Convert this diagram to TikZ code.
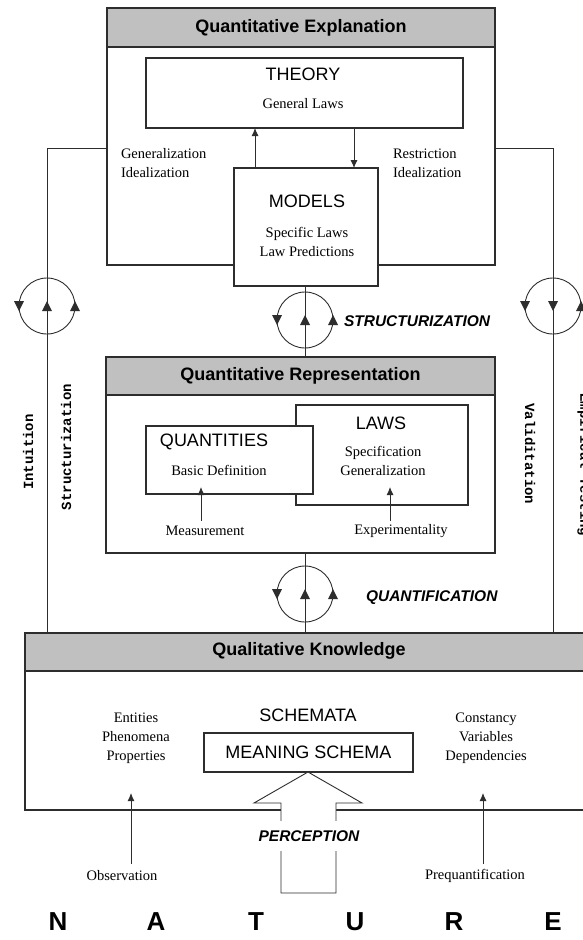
\documentclass[tikz,border=0pt]{standalone}
\usepackage{fontspec}
\setmainfont{Liberation Serif}
\setsansfont{Liberation Sans}
\setmonofont{Liberation Mono}
\usetikzlibrary{arrows.meta}
\definecolor{lc}{RGB}{45,45,45}
\definecolor{hdrgray}{RGB}{192,192,192}
\newcommand\mytri[3]{\fill[lc] (#1,{#2-5*#3}) -- ({#1-5},{#2+5*#3}) -- ({#1+5},{#2+5*#3}) -- cycle;}
\newcommand\mycycle[4]{%
  \node[cyc] (#1) at (#2,#3) {};
  \mytri{#2-28}{#3}{-1}
  \mytri{#2}{#3}{#4}
  \mytri{#2+28}{#3}{1}}
\begin{document}
\begin{tikzpicture}[x=1pt,y=-1pt,
  every node/.style={inner sep=0pt, outer sep=0pt},
  box/.style={draw=lc, line width=1.1pt, fill=white, anchor=north west},
  hdr/.style={draw=lc, line width=1.1pt, fill=hdrgray, anchor=north west},
  ln/.style={draw=lc, line width=0.9pt},
  arr/.style={ln, -{Latex[length=8pt,width=7pt]}},
  cyc/.style={circle, draw=lc, line width=0.9pt, minimum size=56pt},
  serif/.style={font=\fontsize{14.5}{19}\selectfont, align=center},
  caps/.style={font=\sffamily\fontsize{18}{20}\selectfont},
  htext/.style={font=\sffamily\bfseries\fontsize{18}{20}\selectfont},
  itext/.style={font=\sffamily\bfseries\itshape\fontsize{15.5}{17}\selectfont},
  side/.style={font=\ttfamily\bfseries\fontsize{14}{16}\selectfont},
  big/.style={font=\sffamily\bfseries\fontsize{26}{28}\selectfont}]
\clip (0,0) rectangle (583,940);
\fill[white] (0,0) rectangle (583,940);

% ---------- connectors along the sides ----------
\coordinate (qeL) at (107,148);
\coordinate (lc1) at (47,148);
\coordinate (qeR) at (495,148);
\coordinate (rc1) at (553,148);

% ---------- Quantitative Explanation ----------
\node[box, minimum width=388pt, minimum height=257pt] (qe) at (107,8) {};
\node[hdr, minimum width=388pt, minimum height=39pt] (qeh) at (107,8) {};
\node[htext] at (qeh.center) {Quantitative Explanation};
\node[box, minimum width=317pt, minimum height=70pt] (theory) at (146,58) {};
\node[caps] (theoryt) at (303,74) {THEORY};
\node[serif] (theoryl) at (303,104) {General Laws};
\node[box, minimum width=144pt, minimum height=118pt] (models) at (234,168) {};
\node[caps] (modelst) at (307,201) {MODELS};
\node[serif] (modelsl) at (307,241.5) {Specific Laws\\Law Predictions};
\node[serif, align=left, anchor=west] (gen) at (121,163.5) {Generalization\\Idealization};
\node[serif, align=left, anchor=west] (res) at (393,163.5) {Restriction\\Idealization};
\coordinate (ga) at (255,0);
\coordinate (gb) at (354,0);
\draw[arr] (ga |- models.north) -- (ga |- theory.south);
\draw[arr] (gb |- theory.south) -- (gb |- models.north);

% ---------- Quantitative Representation ----------
\node[box, minimum width=389pt, minimum height=196pt] (qr) at (106,357) {};
\node[hdr, minimum width=389pt, minimum height=38pt] (qrh) at (106,357) {};
\node[htext] at (qrh.center) {Quantitative Representation};
\node[box, minimum width=172pt, minimum height=100pt] (laws) at (296,405) {};
\node[caps] (lawst) at (381,423) {LAWS};
\node[serif] (lawsl) at (383,461) {Specification\\Generalization};
\node[box, minimum width=167pt, minimum height=68pt] (quant) at (146,426) {};
\node[caps] (quantt) at (214,442) {QUANTITIES};
\node[serif] (quantl) at (219,470) {Basic Definition};
\node[serif] (meas) at (205,531) {Measurement};
\node[serif] (expe) at (401,531) {Experimentality};
\coordinate (ma) at (201,521);
\coordinate (mb) at (201,487);
\coordinate (ea) at (390,521);
\coordinate (eb) at (390,487);
\draw[arr] (ma) -- (mb);
\draw[arr] (ea) -- (eb);

% ---------- Qualitative Knowledge ----------
\node[box, minimum width=570pt, minimum height=177pt] (qk) at (25,633) {};
\node[hdr, minimum width=570pt, minimum height=38pt] (qkh) at (25,633) {};
\node[htext] at (309,651) {Qualitative Knowledge};
\node[serif] (ent) at (136,738) {Entities\\Phenomena\\Properties};
\node[serif] (con) at (486,738) {Constancy\\Variables\\Dependencies};
\node[caps] (sch) at (308,715) {SCHEMATA};
\node[box, minimum width=209pt, minimum height=39pt] (ms) at (204,733) {};
\node[caps] at (ms.center) {MEANING SCHEMA};
\node[serif] (obs) at (122,876) {Observation};
\node[serif] (preq) at (475,876) {Prequantification};
\coordinate (oa) at (131,864);
\coordinate (ob) at (131,793);
\coordinate (pa) at (483,864);
\coordinate (pb) at (483,793);
\draw[arr] (oa) -- (ob);
\draw[arr] (pa) -- (pb);

% big perception arrow
\draw[ln, fill=white] (308,772) -- (362,803) -- (336,803) -- (336,893) -- (281,893)
  -- (281,803) -- (254,803) -- cycle;
\node[itext, fill=white, minimum height=30pt, inner xsep=2pt] (perc) at (309,836) {PERCEPTION};

% ---------- side connectors and cycles ----------
\draw[ln] (qeL) -- (lc1) -- (lc1 |- qk.north);
\draw[ln] (qeR) -- (rc1) -- (rc1 |- qk.north);
\mycycle{c1}{47}{306}{1}
\mycycle{c4}{553}{306}{-1}
\coordinate (mx) at (305,0);
\draw[ln] (mx |- models.south) -- (mx |- qr.north);
\draw[ln] (mx |- qr.south) -- (mx |- qk.north);
\mycycle{c2}{305}{320}{1}
\mycycle{c3}{305}{594}{1}
\node[itext, anchor=west] (stru) at (344,321) {STRUCTURIZATION};
\node[itext, anchor=west] (quan) at (366,598) {QUANTIFICATION};

\node[side, rotate=90] (intu) at (28,452) {Intuition};
\node[side, rotate=90] (struc) at (66,447) {Structurization};
\node[side, rotate=-90] (vali) at (530,454) {Validitation};
\node[side, rotate=-90] (emp) at (584,465) {Empirical Testing};

% ---------- NATURE ----------
\node[big] (n1) at (58,922) {N};
\node[big] (n2) at (156,922) {A};
\node[big] (n3) at (256,922) {T};
\node[big] (n4) at (355,922) {U};
\node[big] (n5) at (454,922) {R};
\node[big] (n6) at (553,922) {E};
\end{tikzpicture}
\end{document}
